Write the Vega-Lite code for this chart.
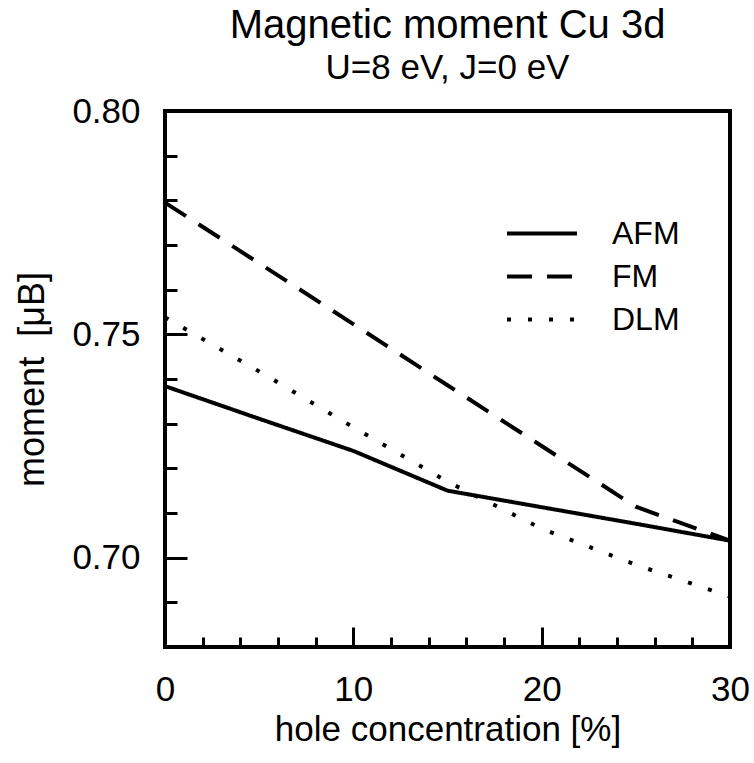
{
  "$schema": "https://vega.github.io/schema/vega-lite/v6.json",
  "width": 565,
  "height": 536,
  "autosize": "none",
  "padding": {"left": 165, "top": 111, "right": 24, "bottom": 116},
  "config": {
    "font": "Liberation Sans",
    "view": {"stroke": "black", "strokeWidth": 4},
    "axis": {"labelColor": "black", "titleColor": "black", "tickColor": "black", "grid": false, "domain": false, "labelFlush": false, "labelOverlap": false, "titleFontWeight": "normal", "labelFont": "Liberation Sans", "titleFont": "Liberation Sans"}
  },
  "title": {
    "text": "Magnetic moment Cu 3d",
    "subtitle": "U=8 eV, J=0 eV",
    "fontSize": 40,
    "subtitleFontSize": 35,
    "fontWeight": "normal",
    "font": "Liberation Sans",
    "subtitleFont": "Liberation Sans",
    "color": "black",
    "subtitleColor": "black",
    "anchor": "middle",
    "offset": 8,
    "subtitlePadding": 5
  },
  "data": {
    "values": [
      {"x": 0, "moment": 0.7384, "series": "AFM"},
      {"x": 5, "moment": 0.7311, "series": "AFM"},
      {"x": 10, "moment": 0.7239, "series": "AFM"},
      {"x": 15, "moment": 0.7150, "series": "AFM"},
      {"x": 20, "moment": 0.7113, "series": "AFM"},
      {"x": 25, "moment": 0.7076, "series": "AFM"},
      {"x": 30, "moment": 0.7038, "series": "AFM"},
      {"x": 0, "moment": 0.7795, "series": "FM"},
      {"x": 5, "moment": 0.7659, "series": "FM"},
      {"x": 10, "moment": 0.7523, "series": "FM"},
      {"x": 15, "moment": 0.7386, "series": "FM"},
      {"x": 20, "moment": 0.7250, "series": "FM"},
      {"x": 25, "moment": 0.7114, "series": "FM"},
      {"x": 30, "moment": 0.7038, "series": "FM"},
      {"x": 0, "moment": 0.7538, "series": "DLM"},
      {"x": 5, "moment": 0.7417, "series": "DLM"},
      {"x": 10, "moment": 0.7292, "series": "DLM"},
      {"x": 15, "moment": 0.7170, "series": "DLM"},
      {"x": 20, "moment": 0.7065, "series": "DLM"},
      {"x": 25, "moment": 0.6984, "series": "DLM"},
      {"x": 30, "moment": 0.6913, "series": "DLM"}
    ]
  },
  "layer": [
    {
      "mark": {"type": "line", "strokeWidth": 4, "color": "black", "strokeCap": "butt", "clip": true},
      "encoding": {
        "x": {
          "field": "x", "type": "quantitative",
          "scale": {"domain": [0, 30], "nice": false, "zero": false},
          "axis": {
            "orient": "bottom",
            "values": [0, 2, 4, 6, 8, 10, 12, 14, 16, 18, 20, 22, 24, 26, 28, 30],
            "labelExpr": "datum.value % 10 === 0 ? datum.label : ''",
            "tickSize": -10, "tickWidth": 3,
            "labelPadding": 35, "labelFontSize": 35,
            "title": "hole concentration [%]", "titleFontSize": 35, "titlePadding": 5
          }
        },
        "y": {
          "field": "moment", "type": "quantitative",
          "scale": {"domain": [0.68, 0.8], "nice": false, "zero": false},
          "axis": {
            "orient": "left",
            "values": [0.68, 0.69, 0.7, 0.71, 0.72, 0.73, 0.74, 0.75, 0.76, 0.77, 0.78, 0.79, 0.8],
            "labelExpr": "round(datum.value * 100) % 5 === 0 ? format(datum.value, '.2f') : ''",
            "tickSize": -12, "tickWidth": 3,
            "labelPadding": 37, "labelFontSize": 35,
            "title": "moment\u00a0\u00a0[μB]", "titleFontSize": 36, "titlePadding": 20
          }
        },
        "strokeDash": {
          "field": "series", "type": "nominal",
          "scale": {"domain": ["AFM", "FM", "DLM"], "range": [[1, 0], [25, 15], [4, 17]]},
          "legend": {
            "orient": "none", "legendX": 340, "legendY": 103, "title": null, "padding": 0,
            "symbolType": "M-1,0H3", "symbolSize": 1225, "symbolStrokeWidth": 4,
            "symbolStrokeColor": "black", "symbolFillColor": "transparent",
            "labelFontSize": 32, "labelColor": "black", "labelFont": "Liberation Sans",
            "labelOffset": 68, "rowPadding": 7
          }
        }
      }
    },
    {
      "mark": {"type": "line", "opacity": 0},
      "encoding": {
        "x": {
          "field": "x", "type": "quantitative",
          "axis": {"orient": "bottom", "values": [0, 10, 20, 30], "labels": false, "tickSize": -20, "tickWidth": 3, "title": null}
        },
        "y": {
          "field": "moment", "type": "quantitative",
          "axis": {"orient": "left", "values": [0.7, 0.75, 0.8], "labels": false, "tickSize": -22, "tickWidth": 3, "title": null}
        },
        "detail": {"field": "series"}
      }
    }
  ],
  "resolve": {"axis": {"x": "independent", "y": "independent"}}
}
